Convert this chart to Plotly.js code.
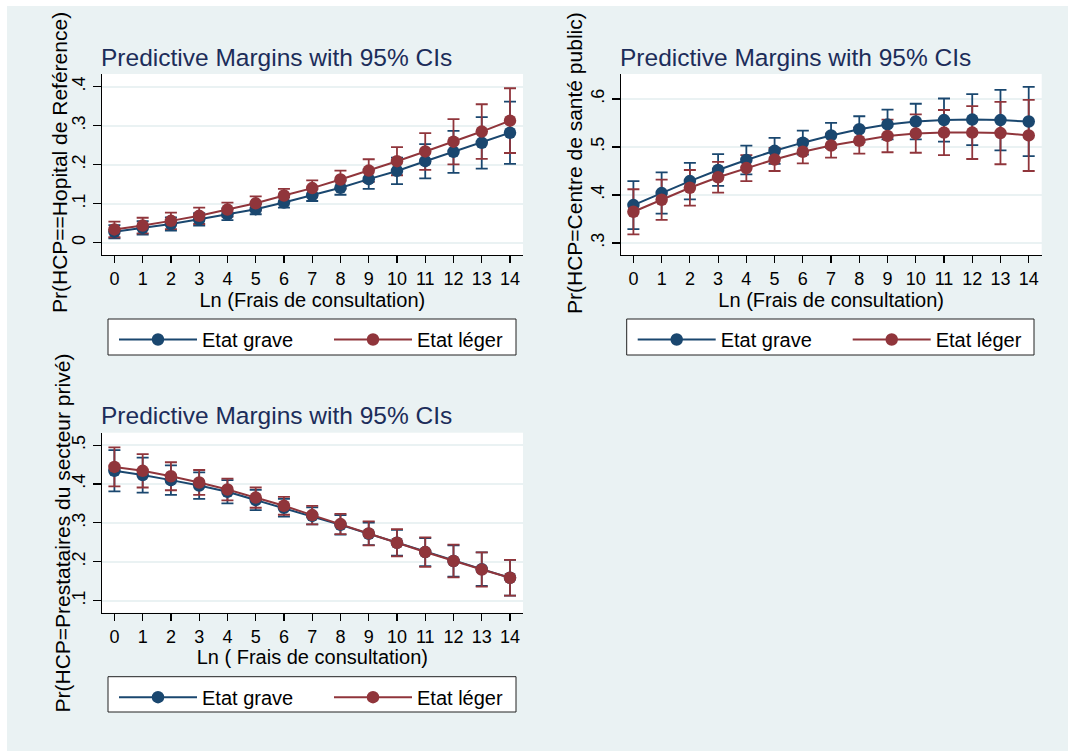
<!DOCTYPE html>
<html>
<head>
<meta charset="utf-8">
<script src="https://cdn.plot.ly/plotly-3.0.1.min.js"></script>
<style>html,body{margin:0;padding:0;background:#fff;}#chart{width:1068px;height:751px;}</style>
</head>
<body>
<div id="chart"></div>
<script>
// ---- data ----
const lnFrais = [0,1,2,3,4,5,6,7,8,9,10,11,12,13,14];
const seriesNames = ["Etat grave", "Etat léger"];
const panelTitle = "Predictive Margins with 95% CIs";

// Panel 1: Pr(HCP==Hopital de Reférence)
const p1Grave   = [0.028,0.038,0.048,0.060,0.073,0.086,0.103,0.122,0.141,0.163,0.184,0.209,0.233,0.256,0.282];
const p1GraveCI = [0.017,0.017,0.017,0.016,0.015,0.013,0.013,0.015,0.018,0.025,0.034,0.044,0.054,0.066,0.080];
const p1Leger   = [0.034,0.044,0.056,0.069,0.085,0.101,0.121,0.140,0.162,0.185,0.209,0.234,0.259,0.285,0.313];
const p1LegerCI = [0.020,0.020,0.021,0.021,0.018,0.018,0.017,0.020,0.023,0.029,0.036,0.047,0.058,0.070,0.083];

// Panel 2: Pr(HCP=Centre de santé public)
const p2Grave   = [0.379,0.404,0.429,0.452,0.473,0.492,0.509,0.524,0.537,0.547,0.553,0.556,0.557,0.556,0.553];
const p2GraveCI = [0.050,0.043,0.038,0.033,0.030,0.027,0.025,0.026,0.027,0.031,0.037,0.045,0.053,0.063,0.072];
const p2Leger   = [0.365,0.390,0.415,0.437,0.456,0.474,0.490,0.503,0.513,0.523,0.528,0.530,0.530,0.529,0.524];
const p2LegerCI = [0.047,0.042,0.037,0.032,0.027,0.024,0.024,0.025,0.027,0.034,0.040,0.047,0.055,0.065,0.074];

// Panel 3: Pr(HCP=Prestataires du secteur privé)
const p3Grave   = [0.434,0.423,0.410,0.396,0.380,0.359,0.339,0.318,0.295,0.272,0.249,0.225,0.202,0.181,0.159];
const p3GraveCI = [0.053,0.045,0.038,0.034,0.030,0.026,0.023,0.022,0.025,0.029,0.033,0.036,0.040,0.043,0.046];
const p3Leger   = [0.444,0.434,0.420,0.404,0.386,0.365,0.344,0.320,0.297,0.273,0.249,0.225,0.202,0.180,0.159];
const p3LegerCI = [0.050,0.043,0.036,0.032,0.028,0.026,0.023,0.024,0.026,0.031,0.035,0.038,0.042,0.044,0.046];

const yTitles = ["Pr(HCP==Hopital de Reférence)", "Pr(HCP=Centre de santé public)", "Pr(HCP=Prestataires du secteur privé)"];
const xTitles = ["Ln (Frais de consultation)", "Ln (Frais de consultation)", "Ln ( Frais de consultation)"];
const yTickVals = [[0,0.1,0.2,0.3,0.4],[0.3,0.4,0.5,0.6],[0.1,0.2,0.3,0.4,0.5]];
const yTickText = [["0",".1",".2",".3",".4"],[".3",".4",".5",".6"],[".1",".2",".3",".4",".5"]];
const yRanges = [[-0.0315,0.4326],[0.275,0.652],[0.069,0.532]];

// ---- styling ----
const W = 1068, H = 751;
const BLUE = "#1a476f", RED = "#90353b", BG = "#eaf2f3";
const FONT = "Liberation Sans, Arial, sans-serif";
const px = v => v / W, py = v => 1 - v / H;

const panels = [
  {g: p1Grave, gci: p1GraveCI, l: p1Leger, lci: p1LegerCI, xd: [101.7, 523], yd: [74, 255], box: [108, 516, 319, 355], yt: [60, 163]},
  {g: p2Grave, gci: p2GraveCI, l: p2Leger, lci: p2LegerCI, xd: [620.7, 1041.7], yd: [74, 255], box: [626.7, 1034, 319, 355], yt: [575, 163]},
  {g: p3Grave, gci: p3GraveCI, l: p3Leger, lci: p3LegerCI, xd: [101.7, 523], yd: [432.7, 612.7], box: [108, 516, 676.7, 712], yt: [61.5, 533]}
];

const traces = [];
const layout = {
  width: W, height: H,
  margin: {l: 0, r: 0, t: 0, b: 0, pad: 0},
  paper_bgcolor: BG, plot_bgcolor: "#ffffff",
  font: {family: FONT, color: "#000", size: 18},
  showlegend: true,
  annotations: [], shapes: [
    {type: "rect", xref: "paper", yref: "paper", x0: 0, x1: 1, y0: py(6), y1: 1, fillcolor: "#fff", line: {width: 0}},
    {type: "rect", xref: "paper", yref: "paper", x0: 0, x1: px(7), y0: 0, y1: 1, fillcolor: "#fff", line: {width: 0}}
  ]
};

panels.forEach((p, i) => {
  const n = i + 1;
  const xa = "x" + (n === 1 ? "" : n), ya = "y" + (n === 1 ? "" : n);
  const legName = n === 1 ? "legend" : "legend" + n;
  const series = [[p.g, p.gci, BLUE], [p.l, p.lci, RED]];
  // CI caps first (behind lines)
  series.forEach(s => traces.push({
    type: "scatter", mode: "markers", x: lnFrais, y: s[0], xaxis: xa, yaxis: ya,
    marker: {size: 1, opacity: 0}, showlegend: false, hoverinfo: "skip",
    error_y: {type: "data", array: s[1], symmetric: true, color: s[2], thickness: 1.8, width: 6}
  }));
  series.forEach((s, k) => traces.push({
    type: "scatter", mode: "lines+markers", name: seriesNames[k], x: lnFrais, y: s[0],
    xaxis: xa, yaxis: ya, legend: legName,
    line: {color: s[2], width: 2}, marker: {color: s[2], size: 12.5}
  }));
  const xk = "xaxis" + (n === 1 ? "" : n), yk = "yaxis" + (n === 1 ? "" : n);
  layout[xk] = {
    domain: [px(p.xd[0]), px(p.xd[1])], anchor: ya, range: [-0.45, 14.46],
    tickmode: "array", tickvals: lnFrais, ticktext: lnFrais.map(String), tickangle: 0,
    ticks: "outside", ticklen: 7, tickcolor: "#000", tickwidth: 1.2,
    showline: true, linecolor: "#000", linewidth: 1.2, showgrid: false, zeroline: false,
    tickfont: {size: 18}, automargin: false, fixedrange: true,
    title: {text: xTitles[i], font: {size: 20}, standoff: 1}
  };
  layout[yk] = {
    domain: [py(p.yd[1]), py(p.yd[0])], anchor: xa, range: yRanges[i],
    tickmode: "array", tickvals: yTickVals[i], ticktext: yTickText[i], tickangle: -90,
    ticks: "outside", ticklen: 8, tickcolor: "#000", tickwidth: 1.2,
    showline: true, linecolor: "#000", linewidth: 1.2, showgrid: true, gridcolor: BG, gridwidth: 2,
    zeroline: false, tickfont: {size: 18}, automargin: false, fixedrange: true
  };
  // y-axis title as rotated text
  layout.annotations.push({
    xref: "paper", yref: "paper", x: px(p.yt[0]), y: py(p.yt[1]),
    xanchor: "center", yanchor: "middle", showarrow: false, textangle: -90,
    text: yTitles[i], font: {size: 21, color: "#000"}
  });
  // legend frame
  layout.shapes.push({type: "rect", xref: "paper", yref: "paper",
    x0: px(p.box[0]), x1: px(p.box[1]), y0: py(p.box[3]), y1: py(p.box[2]),
    fillcolor: "#fff", line: {color: "#222", width: 1}});
  layout[legName] = {
    x: px(p.box[0] + 6), y: py(p.box[2] + 1), xanchor: "left", yanchor: "top",
    orientation: "h", bgcolor: "rgba(0,0,0,0)", borderwidth: 0,
    font: {size: 20, color: "#000"}, itemwidth: 78, entrywidth: 122, entrywidthmode: "pixels",
    itemclick: false, itemdoubleclick: false
  };
  layout.annotations.push({
    xref: "paper", yref: "paper", x: px(p.xd[0] - 3), y: py(p.yd[0] - 17),
    xanchor: "left", yanchor: "middle", showarrow: false,
    text: panelTitle, font: {size: 24.5, color: "#1c2d5a"}
  });
});

Plotly.newPlot("chart", traces, layout, {displayModeBar: false, staticPlot: true});
</script>
</body>
</html>
